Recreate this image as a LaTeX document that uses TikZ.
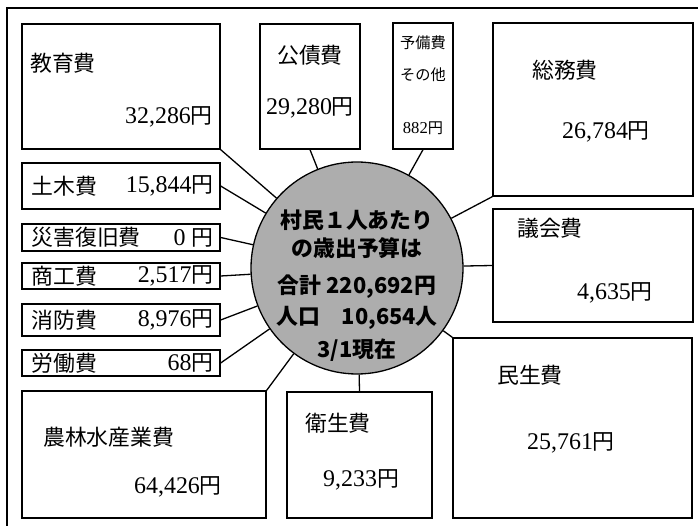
\documentclass[tikz,border=0pt]{standalone}
\usepackage{fontspec}
\setmainfont{Liberation Serif}[Scale=1.04]
\newfontfamily\jp{Noto Sans CJK JP}[Scale=0.95]
\newcommand\amount[1]{{\rmfamily #1}}

\begin{document}
\begin{tikzpicture}[x=1pt,y=-1pt,
  box/.style={draw,line width=1.3pt,inner sep=0},
  lab/.style={font=\fontsize{23}{26}\selectfont\jp,inner sep=0},
  small/.style={font=\fontsize{16}{20}\selectfont\jp,inner sep=0},
  mid/.style={font=\fontsize{23}{28}\selectfont\jp\bfseries,inner sep=0}]
\useasboundingbox (0,0) rectangle (698,526);
\draw[line width=2pt] (7,526) -- (7,8) -- (698,8);

% boxes: name/left/top/right/bottom
\foreach \n/\xa/\ya/\xb/\yb in {kyoiku/22/24/220/149, kosai/260/24/360/149, yobi/393/23/453/149,
  somu/493/23/693/196, gikai/493/209/693/322, minsei/453/338/692/518, eisei/287/392/432/518,
  norin/22/391/266/518, doboku/22/163/220/209, saigai/22/224/220/251, shoko/22/263/220/289,
  shobo/22/304/220/336, rodo/22/350/220/376}{%
  \node[box,minimum width=\xb-\xa,minimum height=\yb-\ya] (\n) at ({(\xa+\xb)/2},{(\ya+\yb)/2}) {};}

\node[circle,draw,line width=1.3pt,fill=black!32,minimum size=212,inner sep=0] (c) at (357,268) {};

\foreach \a in {kyoiku.south east, kosai.south, yobi.south, somu.south west, gikai.west,
  minsei.north west, eisei.north, norin.north east, doboku.east, saigai.east, shoko.east,
  shobo.east, rodo.east}{%
  \draw[line width=1.3pt] (\a) -- (c);}

\foreach \t/\y [count=\i] in {村民１人あたり/220, の歳出予算は/248, {合計 220,692円}/287,
  {人口\quad 10,654人}/318, {3/1現在}/350}{%
  \node[mid] (line\i) at (357,\y) {\t};}

\node[lab,anchor=west] (kyoiku-t) at (30,63) {教育費};
\node[lab,anchor=east] (kyoiku-v) at (213,117) {\amount{32,286}円};
\node[lab] (kosai-t) at (310,55) {公債費};
\node[lab] (kosai-v) at (310,108) {\amount{29,280}円};
\node[small] (yobi-t) at (423,43) {予備費};
\node[small] (yobi-u) at (423,75) {その他};
\node[small] (yobi-v) at (423,128) {\amount{882}円};
\node[lab,anchor=west] (somu-t) at (532,70) {総務費};
\node[lab,anchor=west] (somu-v) at (562,132) {\amount{26,784}円};
\node[lab,anchor=west] (gikai-t) at (517,228) {議会費};
\node[lab,anchor=east] (gikai-v) at (653,293) {\amount{4,635}円};
\node[lab,anchor=west] (minsei-t) at (497,375) {民生費};
\node[lab,anchor=west] (minsei-v) at (527,443) {\amount{25,761}円};
\node[lab,anchor=west] (eisei-t) at (305,423) {衛生費};
\node[lab,anchor=west] (eisei-v) at (323,480) {\amount{9,233}円};
\node[lab,anchor=west] (norin-t) at (43,437) {農林水産業費};
\node[lab,anchor=east] (norin-v) at (222,487) {\amount{64,426}円};

% small boxes on the left
\foreach \n/\t/\v in {doboku/土木費/{15,844}, saigai/災害復旧費/{0\ }, shoko/商工費/{2,517},
  shobo/消防費/{8,976}, rodo/労働費/{68}}{%
  \node[lab,anchor=west] (\n-t) at ([xshift=10]\n.west) {\t};
  \node[lab,anchor=east] (\n-v) at ([xshift=-7]\n.east) {\amount{\v}円};}
\end{tikzpicture}
\end{document}
